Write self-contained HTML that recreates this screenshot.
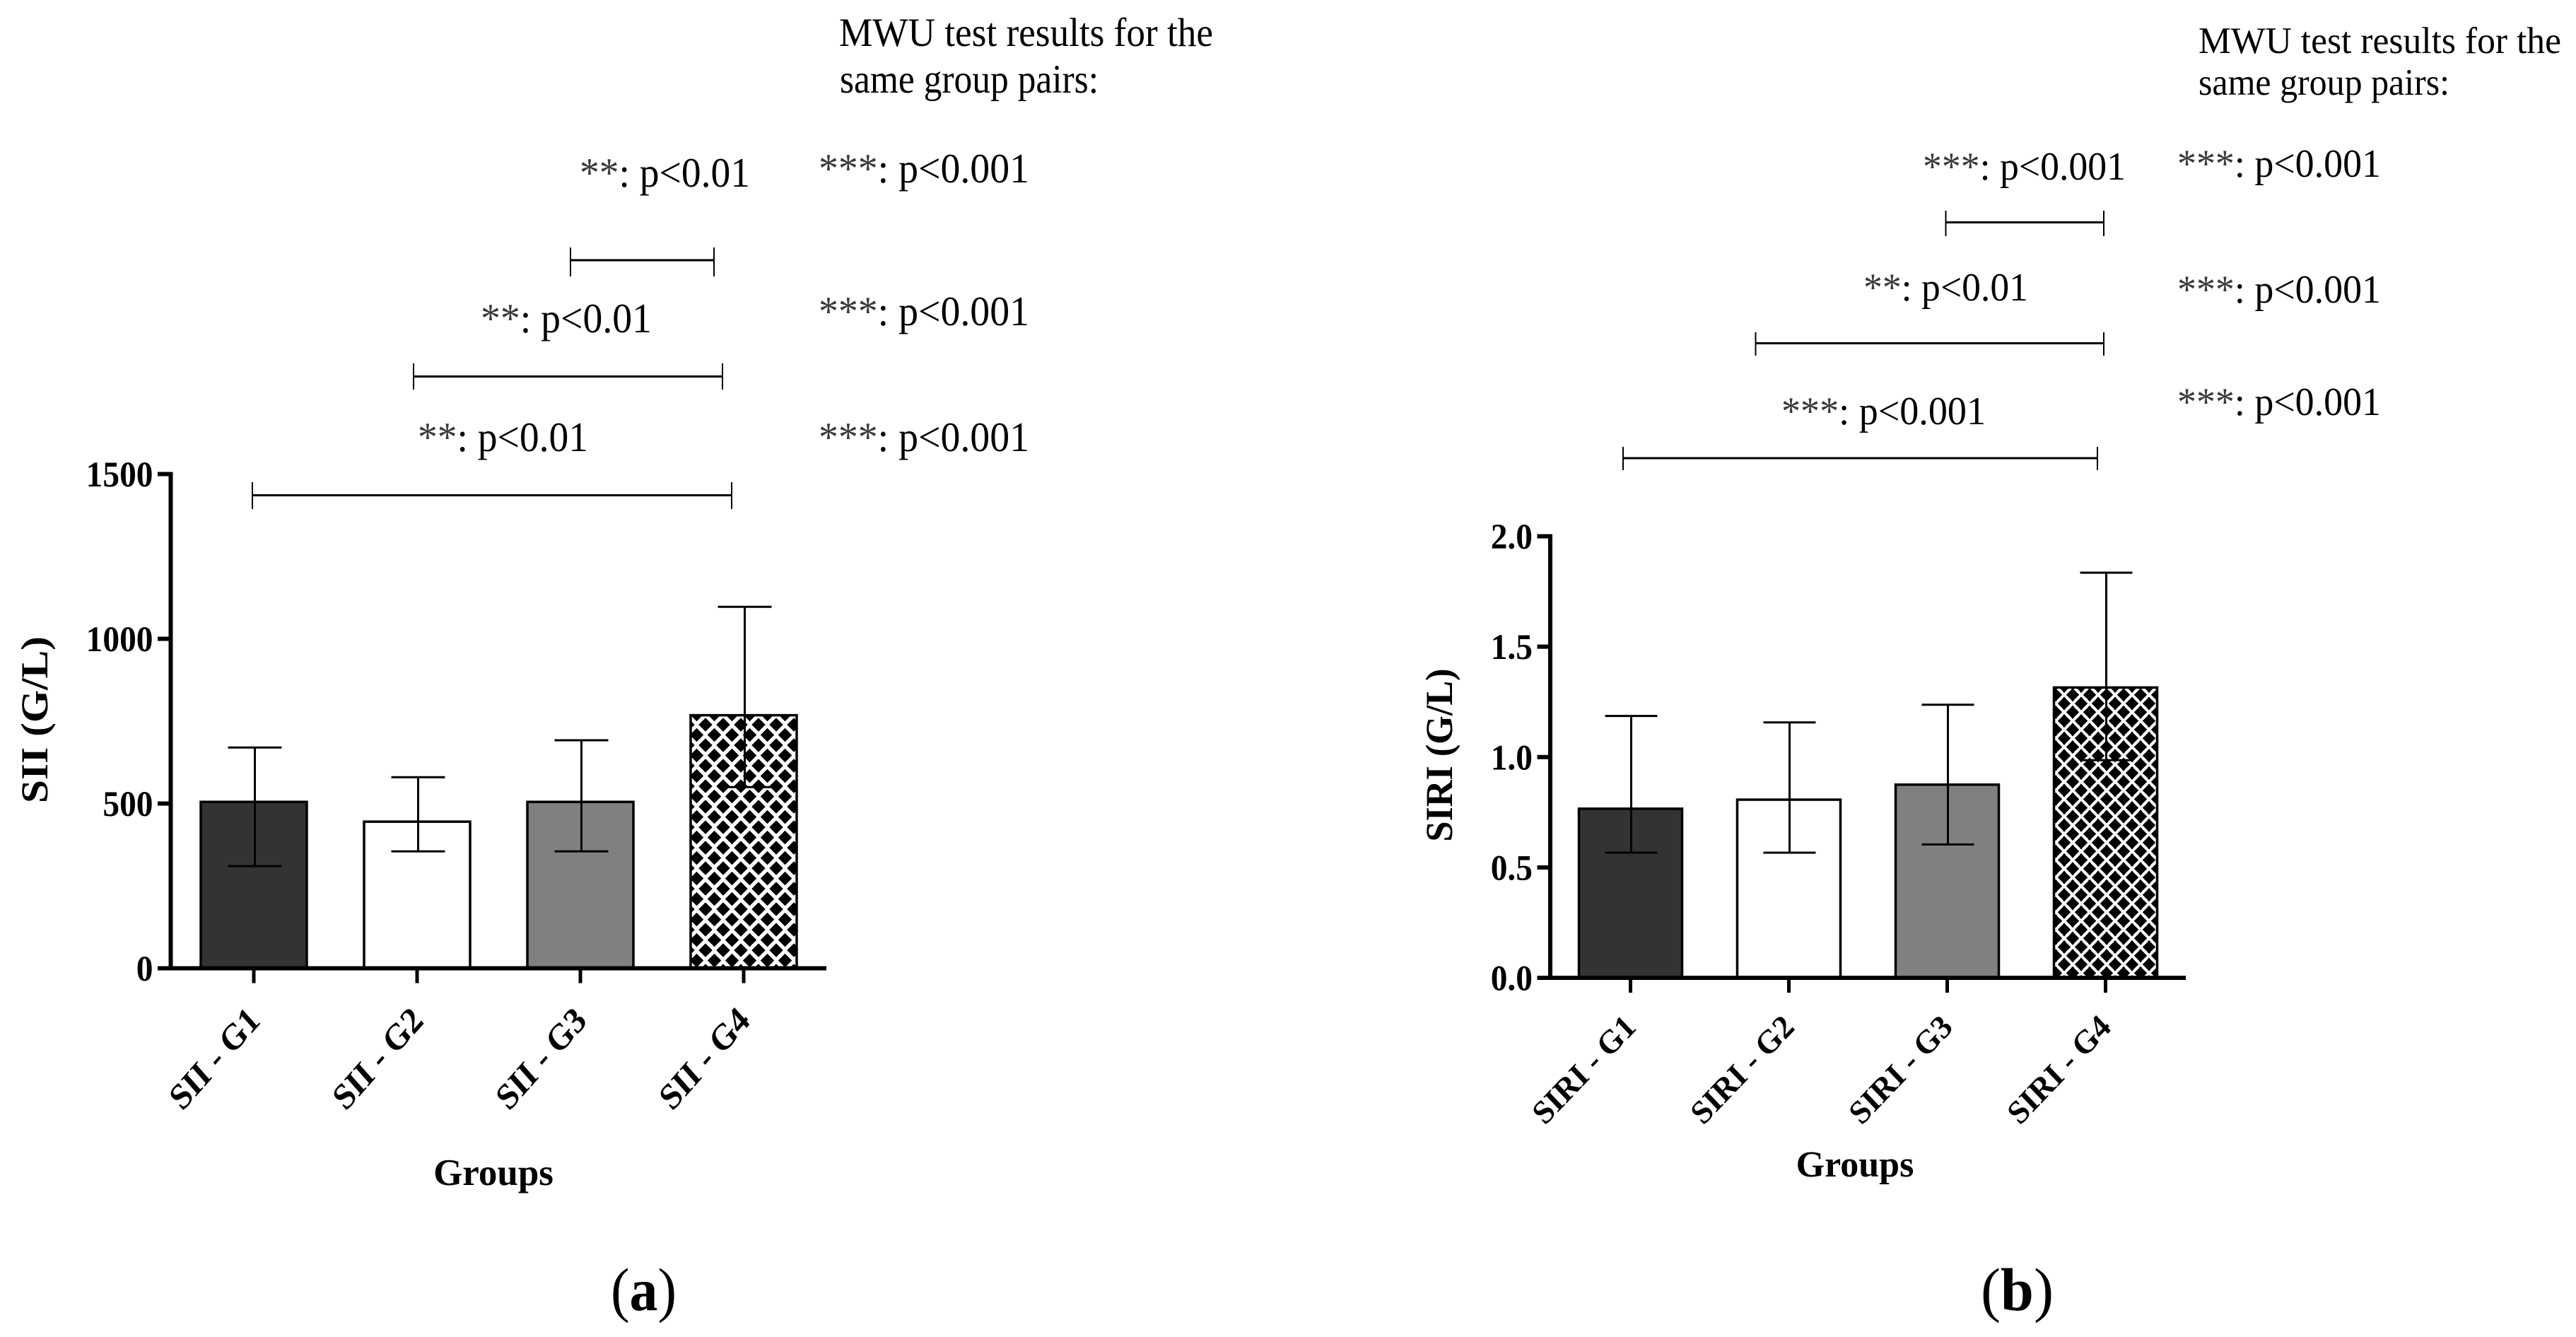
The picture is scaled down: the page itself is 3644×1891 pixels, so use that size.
<!DOCTYPE html>
<html lang="en">
<head>
<meta charset="utf-8">
<title>SII and SIRI by group</title>
<style>
html,body{margin:0;padding:0;background:#fff;}
svg{display:block;}
text{font-family:"Liberation Serif","Times New Roman",serif;fill:#000;}
.note{font-size:59px;}
.noteb{font-size:56px;}
.ast{fill:#3a3a3a;}
.brk{stroke:#000;fill:none;}
</style>
</head>
<body>
<svg id="figure" xmlns="http://www.w3.org/2000/svg" width="3644" height="1891" viewBox="0 0 3644 1891">
  <defs>
    <pattern id="lattice-a" width="25" height="29" patternUnits="userSpaceOnUse" patternTransform="translate(985.5 1010.5)">
      <rect width="25" height="29" fill="#fff"/>
      <polygon points="12.5,4.5 22,14.5 12.5,24.5 3,14.5" fill="#000" shape-rendering="crispEdges"/>
      <polygon points="0,-10 9.5,0 0,10 -9.5,0" fill="#000" shape-rendering="crispEdges"/>
      <polygon points="25,-10 34.5,0 25,10 15.5,0" fill="#000" shape-rendering="crispEdges"/>
      <polygon points="0,19 9.5,29 0,39 -9.5,29" fill="#000" shape-rendering="crispEdges"/>
      <polygon points="25,19 34.5,29 25,39 15.5,29" fill="#000" shape-rendering="crispEdges"/>
    </pattern>
    <pattern id="lattice-b" width="24" height="24.6" patternUnits="userSpaceOnUse" patternTransform="translate(2908 982.7)">
      <rect width="24" height="24.6" fill="#fff"/>
      <polygon points="12,2.8 21,12.3 12,21.8 3,12.3" fill="#000" shape-rendering="crispEdges"/>
      <polygon points="0,-9.5 9,0 0,9.5 -9,0" fill="#000" shape-rendering="crispEdges"/>
      <polygon points="24,-9.5 33,0 24,9.5 15,0" fill="#000" shape-rendering="crispEdges"/>
      <polygon points="0,15.1 9,24.6 0,34.1 -9,24.6" fill="#000" shape-rendering="crispEdges"/>
      <polygon points="24,15.1 33,24.6 24,34.1 15,24.6" fill="#000" shape-rendering="crispEdges"/>
    </pattern>
  </defs>

  <g id="panel-a"></g>
  <g id="panel-b"></g>

  <g>
    <text x="1187" y="65" style="font-size:57px" textLength="529" lengthAdjust="spacingAndGlyphs">MWU test results for the</text>
    <text x="1188" y="131" style="font-size:57px" textLength="366" lengthAdjust="spacingAndGlyphs">same group pairs:</text>

    <text class="note" x="820" y="264" textLength="241" lengthAdjust="spacingAndGlyphs"><tspan class="ast">**</tspan>: p&lt;0.01</text>
    <text class="note" x="680" y="470" textLength="242" lengthAdjust="spacingAndGlyphs"><tspan class="ast">**</tspan>: p&lt;0.01</text>
    <text class="note" x="591" y="638" textLength="241" lengthAdjust="spacingAndGlyphs"><tspan class="ast">**</tspan>: p&lt;0.01</text>
    <text class="note" x="1158" y="258" textLength="298" lengthAdjust="spacingAndGlyphs"><tspan class="ast">***</tspan>: p&lt;0.001</text>
    <text class="note" x="1158" y="460" textLength="298" lengthAdjust="spacingAndGlyphs"><tspan class="ast">***</tspan>: p&lt;0.001</text>
    <text class="note" x="1158" y="638" textLength="298" lengthAdjust="spacingAndGlyphs"><tspan class="ast">***</tspan>: p&lt;0.001</text>

    <g class="brk">
      <path d="M807 368H1010" stroke-width="3"/><path d="M807 350V391M1010 350V391" stroke-width="2"/>
    </g>
    <g class="brk">
      <path d="M585 532.5H1022" stroke-width="3"/><path d="M585 514V551M1022 514V551" stroke-width="2"/>
    </g>
    <g class="brk">
      <path d="M357 700.5H1035" stroke-width="3"/><path d="M357 682V720M1035 682V720" stroke-width="2"/>
    </g>
  </g>

  <g>
    <text x="3110" y="75" style="font-size:53px" textLength="513" lengthAdjust="spacingAndGlyphs">MWU test results for the</text>
    <text x="3110" y="134" style="font-size:53px" textLength="355" lengthAdjust="spacingAndGlyphs">same group pairs:</text>

    <text class="noteb" x="2720" y="254" textLength="287" lengthAdjust="spacingAndGlyphs"><tspan class="ast">***</tspan>: p&lt;0.001</text>
    <text class="noteb" x="2636" y="425" textLength="233" lengthAdjust="spacingAndGlyphs"><tspan class="ast">**</tspan>: p&lt;0.01</text>
    <text class="noteb" x="2520" y="600" textLength="289" lengthAdjust="spacingAndGlyphs"><tspan class="ast">***</tspan>: p&lt;0.001</text>
    <text class="noteb" x="3080" y="250" textLength="288" lengthAdjust="spacingAndGlyphs"><tspan class="ast">***</tspan>: p&lt;0.001</text>
    <text class="noteb" x="3080" y="428" textLength="288" lengthAdjust="spacingAndGlyphs"><tspan class="ast">***</tspan>: p&lt;0.001</text>
    <text class="noteb" x="3080" y="587" textLength="288" lengthAdjust="spacingAndGlyphs"><tspan class="ast">***</tspan>: p&lt;0.001</text>

    <g class="brk">
      <path d="M2752.5 314.5H2976" stroke-width="3"/><path d="M2752.5 298V334M2976 298V334" stroke-width="2"/>
    </g>
    <g class="brk">
      <path d="M2483.5 485.5H2976" stroke-width="3"/><path d="M2483.5 470V503M2976 470V503" stroke-width="2"/>
    </g>
    <g class="brk">
      <path d="M2296 648H2967" stroke-width="3"/><path d="M2296 632V665M2967 632V665" stroke-width="2"/>
    </g>
  </g>

  <text x="864" y="1853" style="font-size:86px" textLength="93" lengthAdjust="spacingAndGlyphs">(<tspan font-weight="bold">a</tspan>)</text>
  <text x="2802" y="1853" style="font-size:86px" textLength="103" lengthAdjust="spacingAndGlyphs">(<tspan font-weight="bold">b</tspan>)</text>
</svg>

<script>
var categoriesA = ["SII - G1", "SII - G2", "SII - G3", "SII - G4"];
var meanA = [505, 445, 505, 768];
var upperA = [670, 580, 692, 1097];
var lowerA = [310, 355, 355, 550];
var ticksA = [0, 500, 1000, 1500];
var tickLabelsA = ["0", "500", "1000", "1500"];

var categoriesB = ["SIRI - G1", "SIRI - G2", "SIRI - G3", "SIRI - G4"];
var meanB = [0.766, 0.807, 0.875, 1.315];
var upperB = [1.186, 1.157, 1.237, 1.835];
var lowerB = [0.567, 0.567, 0.604, 0.986];
var ticksB = [0, 0.5, 1, 1.5, 2];
var tickLabelsB = ["0.0", "0.5", "1.0", "1.5", "2.0"];

var fills = ["#333333", "#ffffff", "#808080"];

var NS = "http://www.w3.org/2000/svg";

function mk(parent, tag, attrs, txt) {
  var el = document.createElementNS(NS, tag);
  for (var k in attrs) { el.setAttribute(k, attrs[k]); }
  if (txt !== undefined) { el.textContent = txt; }
  parent.appendChild(el);
  return el;
}

function drawPanel(root, cfg) {
  var el;
  var yScale = function (v) { return cfg.y0 - (v / cfg.vMax) * (cfg.y0 - cfg.yTop); };
  var xScale = function (i) { return cfg.x0 + i * cfg.step; };

  // bars
  cfg.categories.forEach(function (c, i) {
    var cx = xScale(i);
    var top = yScale(cfg.mean[i]);
    var fill = i < fills.length ? fills[i] : "url(#" + cfg.pattern + ")";
    el = mk(root, "rect", { x: cx - cfg.barW / 2, y: top, width: cfg.barW, height: cfg.y0 - top, fill: fill, stroke: "#000", "stroke-width": 3.5 });
    
    
  });

  // error bars
  cfg.categories.forEach(function (c, i) {
    var ex = xScale(i) + cfg.errOff;
    var yu = yScale(cfg.upper[i]);
    var yl = yScale(cfg.lower[i]);
    el = mk(root, "path", {
      d: "M" + ex + " " + yu + "V" + yl + "M" + (ex - cfg.capW) + " " + yu + "H" + (ex + cfg.capW) + "M" + (ex - cfg.capW) + " " + yl + "H" + (ex + cfg.capW),
      stroke: "#000", "stroke-width": 3, fill: "none"
    });
    
    
  });

  // y axis
  el = mk(root, "line", { x1: cfg.axisX, x2: cfg.axisX, y1: cfg.yTop - 3, y2: cfg.y0 + 3, stroke: "#000", "stroke-width": 6 });
  
  

  cfg.ticks.forEach(function (t, i) {
    var y = yScale(t);
    el = mk(root, "line", { x1: cfg.axisX - 18.5, x2: cfg.axisX, y1: y, y2: y, stroke: "#000", "stroke-width": 6 });
    
    
    var tx = cfg.axisX - 25;
    var ty = y + 17.5;
    el = mk(root, "text", {
      "text-anchor": "end", "font-weight": "bold", style: "font-size:51px",
      transform: "translate(" + tx + " " + ty + ") scale(0.93 1)"
    }, cfg.tickLabels[i]);
    
    
  });

  // x axis
  el = mk(root, "line", { x1: cfg.axisX - 18.5, x2: cfg.xEnd, y1: cfg.y0, y2: cfg.y0, stroke: "#000", "stroke-width": 6 });
  
  

  cfg.categories.forEach(function (c, i) {
    var cx = xScale(i);
    el = mk(root, "line", { x1: cx, x2: cx, y1: cfg.y0, y2: cfg.y0 + 21, stroke: "#000", "stroke-width": 5 });
    
    
    var lx = cx + cfg.labelDx;
    var ly = cfg.labelY;
    el = mk(root, "text", {
      "text-anchor": "end", "font-weight": "bold",
      style: "font-size:" + cfg.labelSize + "px",
      transform: "translate(" + lx + " " + ly + ") scale(1 " + cfg.labelStretch + ") rotate(-45)"
    }, c);
    
    
  });

  // axis titles
  el = mk(root, "text", {
    x: cfg.yTitleX, y: cfg.yTitleY, "text-anchor": "middle", "font-weight": "bold",
    style: "font-size:54px", textLength: cfg.yTitleLen, lengthAdjust: "spacingAndGlyphs",
    transform: "rotate(-90 " + cfg.yTitleX + " " + cfg.yTitleY + ")"
  }, cfg.yTitle);
  
  

  el = mk(root, "text", {
    x: cfg.xTitleX, y: cfg.xTitleY, "text-anchor": "middle", "font-weight": "bold",
    style: "font-size:" + cfg.xTitleSize + "px"
  }, "Groups");
  
  
}

drawPanel(document.getElementById("panel-a"), {
  categories: categoriesA, mean: meanA, upper: upperA, lower: lowerA,
  ticks: ticksA, tickLabels: tickLabelsA, vMax: 1500,
  axisX: 241.5, y0: 1369.5, yTop: 670.5, xEnd: 1169,
  x0: 359, step: 231, barW: 150, errOff: 1.5, capW: 38,
  pattern: "lattice-a", labelDx: 11, labelY: 1446, labelSize: 46, labelStretch: 1.13,
  yTitle: "SII (G/L)", yTitleX: 67, yTitleY: 1018, yTitleLen: 236,
  xTitleX: 698, xTitleY: 1676, xTitleSize: 53
});

drawPanel(document.getElementById("panel-b"), {
  categories: categoriesB, mean: meanB, upper: upperB, lower: lowerB,
  ticks: ticksB, tickLabels: tickLabelsB, vMax: 2,
  axisX: 2193, y0: 1383, yTop: 758.5, xEnd: 3092,
  x0: 2306.5, step: 224, barW: 146, errOff: 1, capW: 37,
  pattern: "lattice-b", labelDx: 10, labelY: 1455, labelSize: 44.5, labelStretch: 1.05,
  yTitle: "SIRI (G/L)", yTitleX: 2054, yTitleY: 1068, yTitleLen: 245,
  xTitleX: 2624, xTitleY: 1664, xTitleSize: 52
});
</script>
</body>
</html>
